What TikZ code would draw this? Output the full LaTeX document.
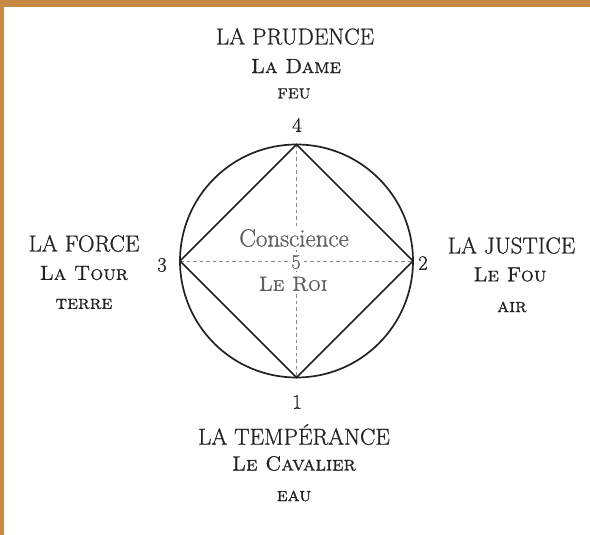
\documentclass[tikz,border=0pt]{standalone}
\usepackage{fontspec}
\setmainfont{Latin Modern Roman}[FakeBold=0.8, SmallCapsFont={Latin Modern Roman Caps}, SmallCapsFeatures={FakeBold=0.8}]
\usetikzlibrary{calc}
\definecolor{frame}{HTML}{C68A45}
\definecolor{ink}{HTML}{222222}
\definecolor{dashink}{HTML}{8A8A8A}
\tikzset{
  virtue/.style={font=\fontsize{23}{23}\selectfont, text=ink, inner sep=1pt},
  piece/.style={font=\fontsize{20.5}{20.5}\selectfont\scshape, text=ink, inner sep=1pt},
  element/.style={font=\fontsize{19.5}{19.5}\selectfont\scshape, text=ink, inner sep=1pt},
  num/.style={font=\fontsize{20.5}{20.5}\selectfont, text=ink, inner sep=1pt},
  mid/.style={font=\fontsize{25}{25}\selectfont, text=ink!72, fill=white, inner xsep=1pt, inner ysep=3pt},
  solidline/.style={draw=ink, line width=1.7pt},
  dashline/.style={draw=dashink, line width=1pt, dash pattern=on 3.5pt off 3pt},
}
\begin{document}
\begin{tikzpicture}[x=1pt,y=-1pt]
\useasboundingbox (0,0) rectangle (590,535);
\fill[white] (0,0) rectangle (590,535);
\fill[frame] (0,0) rectangle (590,7.5);
\fill[frame] (0,0) rectangle (3.5,535);
% circle points
\coordinate (c) at (296.5,261);
\coordinate (p4) at (296.5,144.5);
\coordinate (p2) at (413,261);
\coordinate (p1) at (296.5,377.5);
\coordinate (p3) at (180,261);
% dashed axes
\draw[dashline] (p4) -- (p1);
\draw[dashline] (p3) -- (p2);
% centre labels
\node[mid] (consc) at (294,238) {Conscience};
\node[num, fill=white, text=ink!72, inner sep=2pt] (n5) at (296,262) {5};
\node[mid, font=\fontsize{20.5}{20.5}\selectfont\scshape] (roi) at (293,284) {Le Roi};
% circle and diamond
\draw[solidline] (c) circle (116.5);
\draw[solidline, line join=miter] (p4) -- (p2) -- (p1) -- (p3) -- cycle;
% numbers
\node[num] (n4) at (297,125) {4};
\node[num] (n1) at (297,402) {1};
\node[num] (n3) at (162,265) {3};
\node[num] (n2) at (423,263) {2};
% top
\node[virtue] (prud) at (295,36.5) {LA PRUDENCE};
\node[piece] (dame) at (296,66) {La Dame};
\node[element] (feu) at (294,93.5) {feu};
% left
\node[virtue] (force) at (84,243.5) {LA FORCE};
\node[piece] (tour) at (84,273) {La Tour};
\node[element] (terre) at (84,304) {terre};
% right
\node[virtue] (just) at (511.5,245.5) {LA JUSTICE};
\node[piece] (fou) at (510,274.5) {Le Fou};
\node[element] (air) at (512,307) {air};
% bottom
\node[virtue] (temp) at (294,434.5) {LA TEMPÉRANCE};
\node[piece] (cav) at (294,463.5) {Le Cavalier};
\node[element] (eau) at (294,496) {eau};
\end{tikzpicture}
\end{document}
